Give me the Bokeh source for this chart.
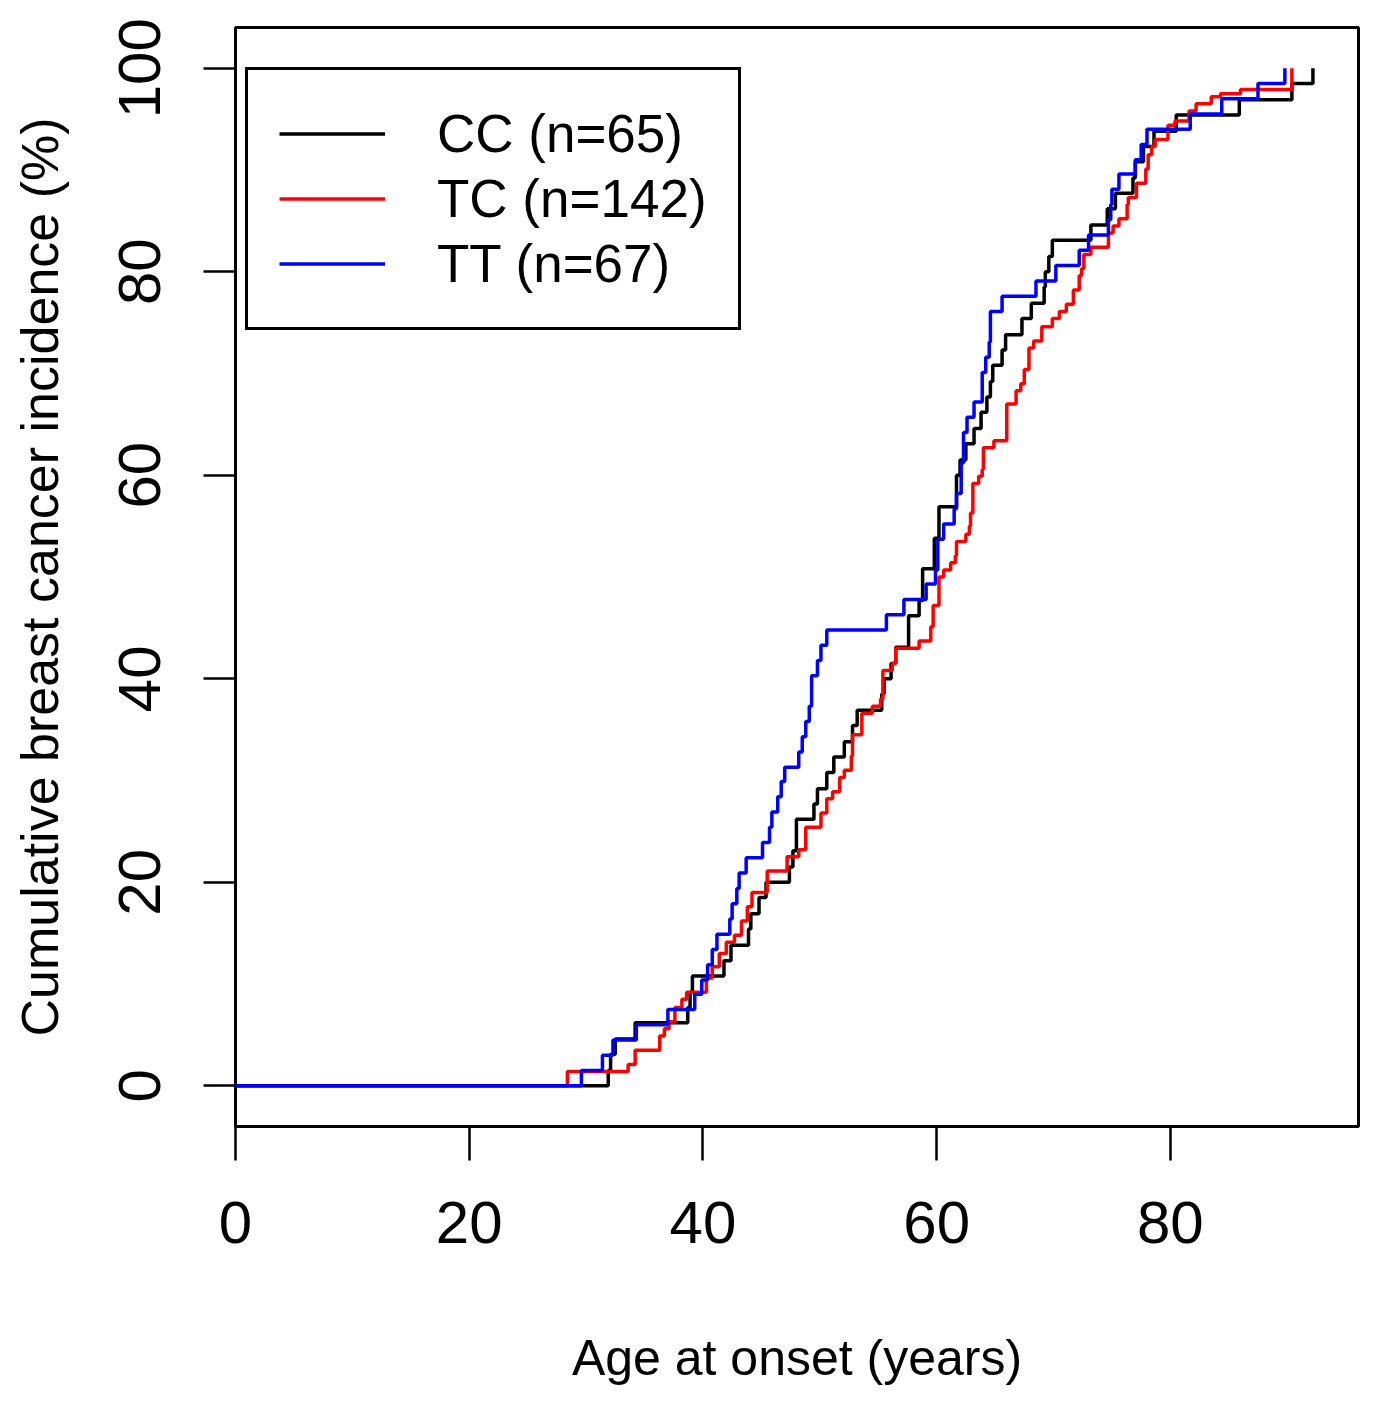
from bokeh.plotting import figure
from bokeh.models import Range1d, Legend, LegendItem, FixedTicker
from bokeh.embed import file_html
from bokeh.resources import INLINE

# ---- data ----
cc_age = [0, 31.9, 32.1, 32.5, 34.2, 38.7, 38.9, 39.1, 41.8, 42.4, 43.9, 44.1, 44.8, 45.4,
          47.4, 47.7, 48.0, 49.5, 49.8, 50.6, 51.2, 52.1, 52.8, 53.2, 55.3, 55.5, 56.1,
          56.5, 57.6, 58.5, 58.8, 59.8, 60.2, 61.7, 62.0, 62.5, 63.2, 63.8, 64.3, 64.6,
          64.8, 65.6, 65.9, 67.3, 68.1, 69.2, 69.3, 69.6, 69.9, 73.2, 74.6, 75.3, 76.8,
          77.0, 77.7, 78.6, 80.5, 85.9, 90.4, 92.2]
cc_pct = [0, 1.5, 3.1, 4.6, 6.2, 7.7, 9.2, 10.8, 12.3, 13.8, 15.4, 16.9, 18.5, 20.0,
          21.5, 23.1, 26.2, 27.7, 29.2, 30.8, 32.3, 33.8, 35.4, 36.9, 38.5, 40.0, 41.5,
          43.1, 46.2, 47.7, 50.8, 53.8, 56.9, 60.0, 61.5, 63.1, 64.6, 66.2, 67.7, 69.2,
          70.8, 72.3, 73.8, 75.4, 76.9, 78.5, 80.0, 81.5, 83.1, 84.6, 86.2, 87.7, 89.2,
          90.8, 92.3, 93.8, 95.4, 96.9, 98.5, 100.0]

tc_age = [0, 28.4, 33.6, 34.2, 36.3, 36.7, 37.1, 37.6, 38.2, 38.6, 40.3, 40.8, 41.4, 42.0,
          42.7, 43.3, 43.8, 44.2, 45.5, 47.2, 48.2, 48.8, 50.1, 50.6, 51.1, 51.7, 52.1,
          52.7, 52.8, 53.6, 54.5, 55.2, 55.4, 56.2, 56.5, 58.5, 59.5, 59.7, 60.2, 60.6,
          61.2, 61.6, 61.7, 62.5, 62.8, 62.9, 63.1, 63.6, 63.9, 64.0, 64.9, 66.0, 66.8,
          67.2, 67.5, 67.9, 68.3, 69.0, 69.9, 70.5, 71.1, 71.7, 72.2, 72.4, 72.6, 73.2,
          74.7, 75.1, 75.6, 76.3, 76.4, 77.1, 77.9, 78.1, 78.4, 78.7, 79.8, 80.4, 81.6,
          82.2, 83.5, 84.3, 86.0, 90.4]
tc_pct = [0, 1.4, 2.1, 3.5, 4.9, 5.6, 6.3, 7.7, 8.5, 9.2, 10.6, 11.7, 13.0, 14.1,
          14.8, 16.2, 17.6, 19.0, 21.1, 22.5, 23.2, 25.4, 26.8, 28.2, 28.9, 30.3, 31.0,
          32.4, 34.5, 36.6, 37.3, 38.0, 40.8, 41.5, 43.0, 43.7, 45.1, 47.2, 50.0, 50.7,
          51.4, 52.1, 53.5, 54.2, 55.0, 56.3, 59.2, 59.9, 60.6, 62.7, 63.4, 67.0, 68.3,
          69.0, 70.4, 72.5, 73.2, 74.6, 75.4, 76.1, 76.8, 78.2, 79.6, 80.3, 81.7, 82.4,
          83.8, 84.5, 85.2, 86.6, 87.3, 88.7, 90.1, 91.5, 92.3, 93.0, 94.4, 94.8, 95.8,
          96.5, 97.2, 97.5, 97.9, 100.0]

tt_age = [0, 29.6, 31.4, 32.3, 34.3, 37.0, 39.3, 39.9, 40.4, 40.8, 41.2, 42.3, 42.5, 42.9,
          43.1, 43.7, 45.1, 45.7, 45.9, 46.4, 46.7, 47.0, 48.2, 48.5, 48.8, 49.1, 49.3,
          49.8, 50.1, 50.6, 55.7, 57.2, 59.1, 59.9, 60.1, 60.6, 61.5, 61.7, 62.1, 62.3,
          62.6, 63.2, 63.9, 64.2, 64.5, 64.6, 65.6, 68.5, 70.2, 72.2, 73.0, 74.7, 74.9,
          75.0, 75.6, 77.0, 77.5, 78.0, 81.7, 84.4, 87.5, 89.8]
tt_pct = [0, 1.5, 3.0, 4.5, 6.0, 7.5, 9.0, 10.4, 11.9, 13.4, 14.9, 16.4, 17.9, 19.4,
          20.9, 22.4, 23.9, 25.4, 26.9, 28.4, 29.9, 31.3, 32.8, 34.3, 35.8, 37.3, 40.3,
          41.8, 43.3, 44.8, 46.3, 47.8, 49.3, 50.7, 53.7, 55.2, 56.7, 58.2, 61.2, 64.2,
          65.7, 67.2, 70.1, 71.6, 73.1, 76.1, 77.6, 79.1, 80.6, 82.1, 83.6, 85.1, 86.6,
          88.1, 89.6, 91.0, 92.5, 94.0, 95.5, 97.0, 98.5, 100.0]

series_names = ["CC (n=65)", "TC (n=142)", "TT (n=67)"]
series_colors = ["#000000", "#FF0000", "#0000FF"]
x_ticks = [0, 20, 40, 60, 80]
y_ticks = [0, 20, 40, 60, 80, 100]

FONT = "Liberation Sans"

p = figure(width=1375, height=1402, output_backend="svg", toolbar_location=None,
           x_range=Range1d(0, 96.1), y_range=Range1d(-4, 104),
           min_border_left=235, min_border_right=17, min_border_top=27,
           min_border_bottom=276)

p.grid.visible = False
p.background_fill_color = "white"
p.border_fill_color = "white"
p.outline_line_color = "black"
p.outline_line_width = 3
p.outline_line_alpha = 1.0

for ax in (p.xaxis[0], p.yaxis[0]):
    ax.axis_line_color = None
    ax.major_tick_line_color = "black"
    ax.major_tick_line_width = 2.5
    ax.minor_tick_line_color = None
    ax.major_tick_in = 0
    ax.major_label_text_font = FONT
    ax.major_label_text_color = "black"
    ax.axis_label_text_font = FONT
    ax.axis_label_text_font_style = "normal"
    ax.axis_label_text_color = "black"

p.xaxis.ticker = FixedTicker(ticks=x_ticks)
p.yaxis.ticker = FixedTicker(ticks=y_ticks)
p.xaxis.major_tick_out = 34
p.yaxis.major_tick_out = 32
p.xaxis.major_label_text_font_size = "60px"
p.yaxis.major_label_text_font_size = "60px"
p.yaxis.major_label_orientation = "vertical"
p.xaxis.major_label_standoff = 41
p.yaxis.major_label_standoff = 43
p.xaxis.axis_label = "Age at onset (years)"
p.yaxis.axis_label = "Cumulative breast cancer incidence (%)"
p.xaxis.axis_label_text_font_size = "50px"
p.yaxis.axis_label_text_font_size = "52px"
p.xaxis.axis_label_standoff = 84
p.yaxis.axis_label_standoff = 48

renderers = []
for ages, pcts, col in [(cc_age, cc_pct, series_colors[0]),
                        (tc_age, tc_pct, series_colors[1]),
                        (tt_age, tt_pct, series_colors[2])]:
    r = p.step(ages, pcts, mode="after", line_color=col, line_width=3.5)
    renderers.append(r)

legend = Legend(items=[LegendItem(label=n, renderers=[r]) for n, r in zip(series_names, renderers)],
                location=(10, 796))
legend.label_text_font = FONT
legend.label_text_font_size = "53px"
legend.label_text_color = "black"
legend.glyph_width = 106
legend.glyph_height = 65
legend.label_height = 60
legend.label_standoff = 52
legend.padding = 31
legend.spacing = 0
legend.margin = 0
legend.border_line_color = "black"
legend.border_line_width = 3
legend.border_line_alpha = 1.0
legend.background_fill_alpha = 1.0
p.add_layout(legend, "center")

open("out.html", "w").write(file_html(p, INLINE))
